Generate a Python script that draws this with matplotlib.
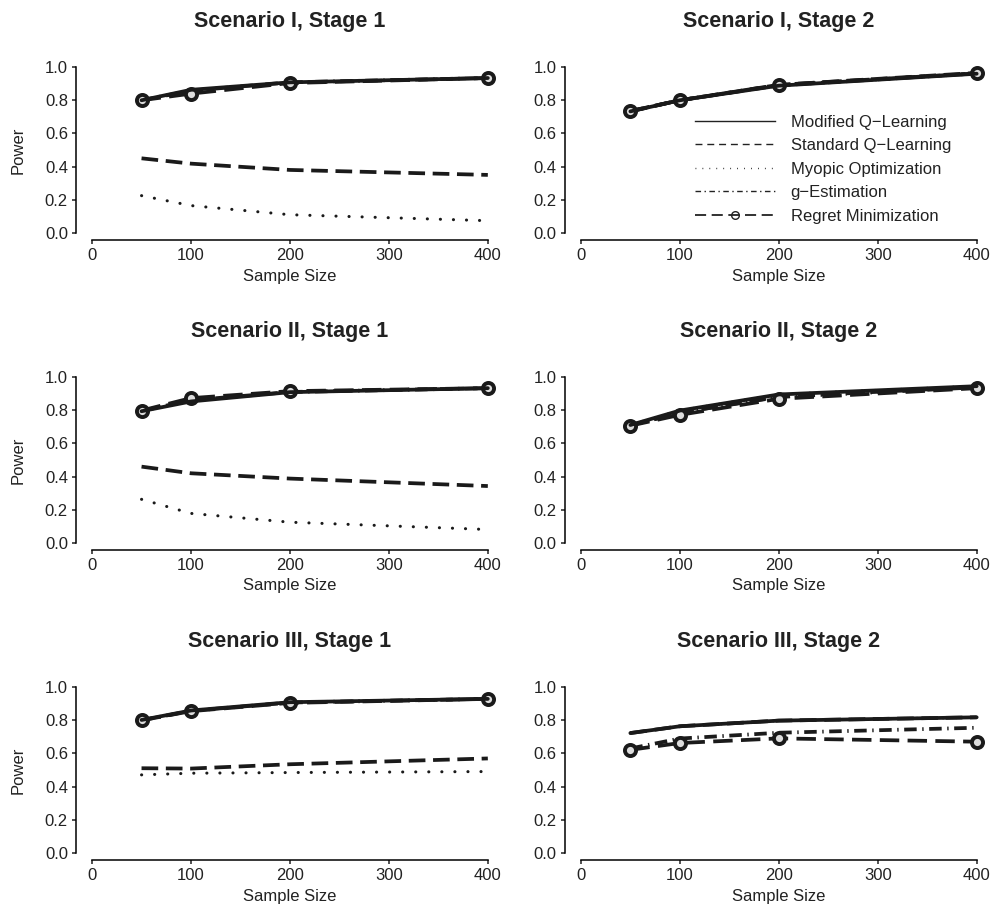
import numpy as np
import matplotlib
matplotlib.use("Agg")
import matplotlib.pyplot as plt

plt.rcParams['font.family'] = ['Liberation Sans', 'DejaVu Sans']
plt.rcParams['lines.scale_dashes'] = False
plt.rcParams['axes.unicode_minus'] = True

# sample sizes
n = [50, 100, 200, 400]

titles = ["Scenario I, Stage 1", "Scenario I, Stage 2",
          "Scenario II, Stage 1", "Scenario II, Stage 2",
          "Scenario III, Stage 1", "Scenario III, Stage 2"]

# power, one list per panel
modq = [[0.80, 0.863, 0.908, 0.934],
        [0.733, 0.80, 0.888, 0.960],
        [0.794, 0.853, 0.909, 0.933],
        [0.711, 0.798, 0.895, 0.945],
        [0.802, 0.859, 0.909, 0.929],
        [0.723, 0.764, 0.798, 0.818]]
stdq = [[0.45, 0.418, 0.38, 0.35],
        [0.733, 0.80, 0.893, 0.965],
        [0.46, 0.42, 0.388, 0.343],
        [0.709, 0.785, 0.882, 0.940],
        [0.511, 0.509, 0.535, 0.57],
        [0.723, 0.764, 0.798, 0.818]]
myopic = [[0.225, 0.165, 0.11, 0.074],
          [0.733, 0.80, 0.888, 0.960],
          [0.263, 0.178, 0.125, 0.081],
          [0.711, 0.798, 0.895, 0.945],
          [0.471, 0.481, 0.485, 0.491],
          [0.723, 0.764, 0.798, 0.818]]
gest = [[0.80, 0.858, 0.908, 0.934],
        [0.735, 0.80, 0.89, 0.962],
        [0.796, 0.86, 0.91, 0.933],
        [0.709, 0.785, 0.88, 0.938],
        [0.80, 0.857, 0.907, 0.929],
        [0.63, 0.69, 0.725, 0.755]]
regret = [[0.80, 0.84, 0.904, 0.934],
          [0.735, 0.80, 0.893, 0.962],
          [0.798, 0.873, 0.915, 0.933],
          [0.707, 0.772, 0.869, 0.933],
          [0.80, 0.855, 0.905, 0.929],
          [0.622, 0.663, 0.691, 0.671]]

labels = ["Modified Q\u2212Learning", "Standard Q\u2212Learning",
          "Myopic Optimization", "g\u2212Estimation", "Regret Minimization"]

fig = plt.figure(figsize=(9.94, 9.09), dpi=100)

lefts = [0.0767, 0.5685]
bottoms = [0.7364, 0.3954, 0.0543]
w, h = 0.430, 0.1971
ink = '#1a1a1a'

for i in range(6):
    r, c = divmod(i, 2)
    ax = fig.add_axes([lefts[c], bottoms[r], w, h])
    # standard Q-learning: dashed
    ax.plot(n, stdq[i], color=ink, lw=2.7, dashes=(12, 5.5))
    # myopic: dotted
    ax.plot(n, myopic[i], color=ink, lw=2.2, dashes=(0.1, 9.3),
            dash_capstyle='round')
    # g-estimation: dash-dot
    ax.plot(n, gest[i], color=ink, lw=2.7, dashes=(9, 4, 1, 4))
    # regret: long dash with circles
    ax.plot(n, regret[i], color=ink, lw=2.7, dashes=(14, 6),
            marker='o', ms=8, mfc='#dddddd', mec=ink, mew=2.8)
    # modified Q-learning: solid
    ax.plot(n, modq[i], color=ink, lw=2.7, solid_capstyle='round')

    ax.set_xlim(-16, 416)
    ax.set_ylim(-0.04, 1.04)
    ax.set_xticks([0, 100, 200, 300, 400])
    ax.set_yticks(np.arange(0, 1.01, 0.2))
    ax.set_yticklabels(["%.1f" % v for v in np.arange(0, 1.01, 0.2)])
    for s in ['top', 'right']:
        ax.spines[s].set_visible(False)
    ax.spines['left'].set_bounds(0, 1)
    ax.spines['bottom'].set_bounds(0, 400)
    ax.spines['left'].set_linewidth(1.1)
    ax.spines['bottom'].set_linewidth(1.1)
    ax.tick_params(length=3, width=1.1, labelsize=12, pad=3, colors='#222222')
    ax.set_xlabel("Sample Size", fontsize=12, labelpad=4, color='#222222')
    if c == 0:
        ax.set_ylabel("Power", fontsize=12, labelpad=14, color='#222222')
    ax.set_title(titles[i], fontsize=15.5, fontweight='bold', pad=24,
                 color='#222222')

    if i == 1:
        hs = [
            plt.Line2D([], [], color='#222222', lw=1.0),
            plt.Line2D([], [], color='#222222', lw=1.0, dashes=(5, 3.5)),
            plt.Line2D([], [], color='#222222', lw=1.0, dashes=(0.6, 4.4)),
            plt.Line2D([], [], color='#222222', lw=1.0, dashes=(4, 2.5, 1, 2.5)),
            plt.Line2D([], [], color='#222222', lw=1.3, dashes=(8, 4),
                       marker='o', ms=5.5, mfc='none', mec='#222222', mew=1.0),
        ]
        ax.legend(hs, labels, loc='upper left', bbox_to_anchor=(0.699, 0.874),
                  bbox_transform=fig.transFigure, frameon=False,
                  fontsize=12, handlelength=4.8, handletextpad=0.95,
                  labelspacing=0.51, borderpad=0, borderaxespad=0,
                  labelcolor='#222222')

fig.savefig("out.png", dpi=100)
